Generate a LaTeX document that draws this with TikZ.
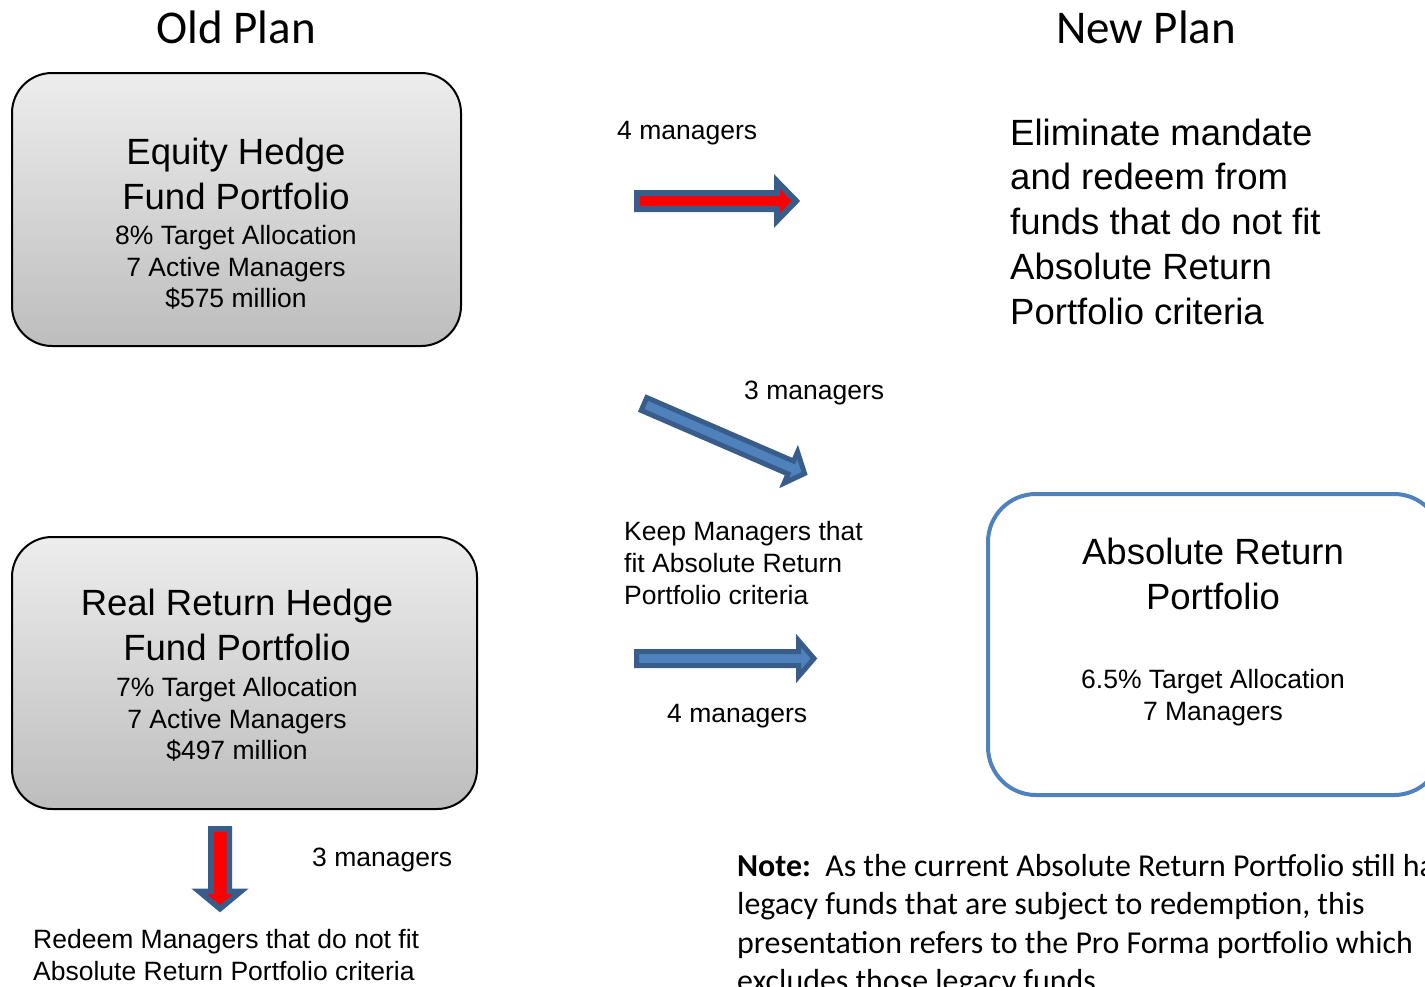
\documentclass[tikz,border=0pt]{standalone}
\usepackage{fontspec}
\setmainfont{Liberation Sans}
\newfontfamily\notefont{Carlito}
\definecolor{arrowblue}{HTML}{4F81BD}
\definecolor{arrowedge}{HTML}{385D8A}
\definecolor{boxtop}{HTML}{EDEDED}
\definecolor{boxbottom}{HTML}{BDBDBD}

% block arrow: style, x, y, angle, length, shaft half width, head half width, head length
\newcommand\blockarrow[8]{%
  \begin{scope}[shift={(#2,#3)},rotate=#4]
    \draw[#1] (0,-#6) -- ({#5-#8},-#6) -- ({#5-#8},-#7) -- (#5,0)
      -- ({#5-#8},#7) -- ({#5-#8},#6) -- (0,#6) -- cycle;
  \end{scope}}

\tikzset{
  oldbox/.style={draw=black, line width=2pt, rounded corners=40pt,
    top color=boxtop, bottom color=boxbottom},
  newbox/.style={draw=arrowblue, line width=4pt, rounded corners=48pt, fill=white},
  redarrow/.style={fill=red, draw=arrowedge, line join=miter},
  bluearrow/.style={fill=arrowblue, draw=arrowedge, line join=miter},
  txt/.style={inner sep=0pt, anchor=base},
  ltxt/.style={inner sep=0pt, anchor=base west},
  bigfont/.style={font=\fontsize{36.5}{44}\selectfont},
  smallfont/.style={font=\fontsize{26.5}{32}\selectfont},
  titlefont/.style={font=\notefont\fontsize{47}{56}\selectfont},
  notestyle/.style={font=\notefont\fontsize{31.9}{38.5}\selectfont},
}

\begin{document}
\begin{tikzpicture}[x=1pt,y=-1pt]
\useasboundingbox (0,0) rectangle (1425,986);
\clip (0,0) rectangle (1425,986);

% column headings
\node[txt, titlefont] (oldplan) at (236,43) {Old Plan};
\node[txt, titlefont] (newplan) at (1146,43) {New Plan};

% old plan portfolios
\path[oldbox] (12,73) rectangle (461,346);
\node[txt, bigfont]   (eq1) at (236,164) {Equity Hedge};
\node[txt, bigfont]   (eq2) at (236,209) {Fund Portfolio};
\node[txt, smallfont] (eq3) at (236,244) {8\% Target Allocation};
\node[txt, smallfont] (eq4) at (236,276) {7 Active Managers};
\node[txt, smallfont] (eq5) at (236,307.5) {\$575 million};

\path[oldbox] (12,537) rectangle (477,809);
\node[txt, bigfont]   (rr1) at (237,615) {Real Return Hedge};
\node[txt, bigfont]   (rr2) at (237,660) {Fund Portfolio};
\node[txt, smallfont] (rr3) at (237,696) {7\% Target Allocation};
\node[txt, smallfont] (rr4) at (237,728) {7 Active Managers};
\node[txt, smallfont] (rr5) at (237,759.5) {\$497 million};

% new plan portfolio
\path[newbox] (988,494) rectangle (1442,795);
\node[txt, bigfont]   (ar1) at (1213,564) {Absolute Return};
\node[txt, bigfont]   (ar2) at (1213,609) {Portfolio};
\node[txt, smallfont] (ar3) at (1213,688) {6.5\% Target Allocation};
\node[txt, smallfont] (ar4) at (1213,720) {7 Managers};

% eliminated mandate
\node[ltxt, bigfont] (el1) at (1010,145) {Eliminate mandate};
\node[ltxt, bigfont] (el2) at (1010,189.5) {and redeem from};
\node[ltxt, bigfont] (el3) at (1010,234) {funds that do not fit};
\node[ltxt, bigfont] (el4) at (1010,279) {Absolute Return};
\node[ltxt, bigfont] (el5) at (1010,324) {Portfolio criteria};

% flow arrows
\blockarrow{redarrow, line width=6pt}{637}{201}{0}{159}{8}{19.5}{19}
\blockarrow{bluearrow, line width=5pt}{644}{404}{-23.4}{175}{7}{17}{15}
\blockarrow{bluearrow, line width=5pt}{636.5}{658.5}{0}{177.5}{7}{18}{15.5}
\blockarrow{redarrow, line width=5.5pt}{220}{828.75}{-90}{80}{9.25}{21}{17.5}

% arrow labels
\node[ltxt, smallfont] (m1) at (617,139) {4 managers};
\node[ltxt, smallfont] (m2) at (744,399.5) {3 managers};
\node[ltxt, smallfont] (k1) at (624,540.5) {Keep Managers that};
\node[ltxt, smallfont] (k2) at (624,572.5) {fit Absolute Return};
\node[ltxt, smallfont] (k3) at (624,604.5) {Portfolio criteria};
\node[ltxt, smallfont] (m3) at (667,722) {4 managers};
\node[ltxt, smallfont] (m4) at (312,866) {3 managers};
\node[ltxt, smallfont] (rd1) at (33,948) {Redeem Managers that do not fit};
\node[ltxt, smallfont] (rd2) at (33,980) {Absolute Return Portfolio criteria};

% note
\node[ltxt, notestyle] (n1) at (737,876) {\textbf{Note:}\ \ As the current Absolute Return Portfolio still has};
\node[ltxt, notestyle] (n2) at (737,914.5) {legacy funds that are subject to redemption, this};
\node[ltxt, notestyle] (n3) at (737,953) {presentation refers to the Pro Forma portfolio which};
\node[ltxt, notestyle] (n4) at (737,991.5) {excludes those legacy funds.};
\end{tikzpicture}
\end{document}
